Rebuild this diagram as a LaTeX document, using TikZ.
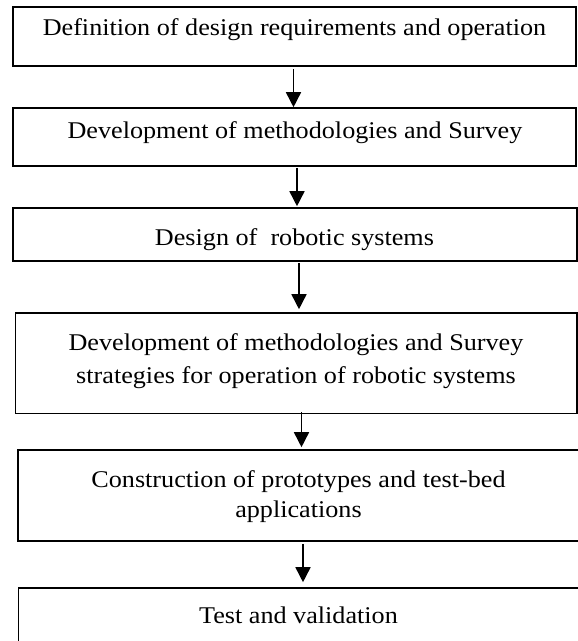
\documentclass[tikz,border=0pt]{standalone}
\usepackage{fontspec}
\setmainfont[FakeStretch=1.09]{Liberation Serif}
\usetikzlibrary{arrows.meta}
\begin{document}
\begin{tikzpicture}[x=1pt,y=-1pt,
  box/.style={draw=black,line width=1.6pt,rectangle,inner sep=0pt},
  lbl/.style={anchor=base,inner sep=0pt,font=\fontsize{24}{28}\selectfont},
  arr/.style={line width=1.6pt,-{Triangle[length=15pt,width=15pt]}}]
\useasboundingbox (0,0) rectangle (578,641);
\clip (0,0) rectangle (578,641);
\fill[white] (0,0) rectangle (578,641);
% boxes
\node[box,minimum width=563pt,minimum height=59pt] (b1) at (294.5,36.5) {};
\node[box,minimum width=563pt,minimum height=58pt] (b2) at (294.5,137) {};
\node[box,minimum width=564pt,minimum height=53pt] (b3) at (295,234.5) {};
\node[box,minimum width=561.5pt,minimum height=100.5pt] (b4) at (296.25,363.25) {};
\node[box,minimum width=564pt,minimum height=91pt] (b5) at (300,495.5) {};
\node[box,minimum width=563.5pt,minimum height=62pt] (b6) at (300.25,619) {};
% texts
\node[lbl] (t1) at (294.5,35) {Definition of design requirements and operation};
\node[lbl] (t2) at (295,138) {Development of methodologies and Survey};
\node[lbl] (t3) at (294.5,245) {Design of \ robotic systems};
\node[lbl] (t4a) at (296,350) {Development of methodologies and Survey};
\node[lbl] (t4b) at (296,383) {strategies for operation of robotic systems};
\node[lbl] (t5a) at (298.5,487) {Construction of prototypes and test-bed};
\node[lbl] (t5b) at (298.5,517) {applications};
\node[lbl] (t6) at (298.5,623) {Test and validation};
% arrows
\draw[arr] ([xshift=-1pt,yshift=-2pt]b1.south) -- ([xshift=-1pt]b2.north);
\draw[arr] ([xshift=2.5pt,yshift=-1pt]b2.south) -- ([xshift=2pt,yshift=1pt]b3.north);
\draw[arr] ([xshift=4pt,yshift=-1pt]b3.south) -- ([xshift=2.75pt,yshift=3pt]b4.north);
\draw[arr] ([xshift=5.25pt,yshift=2.5pt]b4.south) -- ([xshift=1.5pt,yshift=2pt]b5.north);
\draw[arr] ([xshift=3pt,yshift=-2pt]b5.south) -- ([xshift=2.75pt,yshift=5pt]b6.north);
\end{tikzpicture}
\end{document}
